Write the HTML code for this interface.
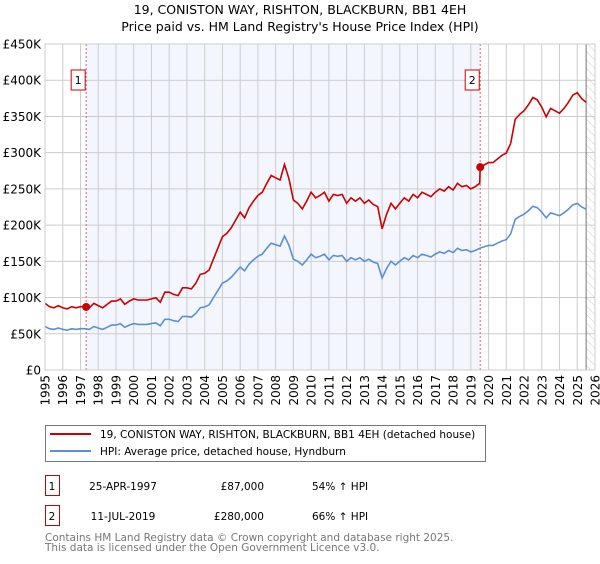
<!DOCTYPE html>
<html><head><meta charset="utf-8"><style>
body{margin:0;background:#fff;font-family:"DejaVu Sans","Liberation Sans",sans-serif;}
svg text{font-family:"DejaVu Sans","Liberation Sans",sans-serif;}
</style></head><body>
<svg id="c" width="600" height="560" xmlns="http://www.w3.org/2000/svg"></svg>
<script>
const hpiYears=[1995,1995.25,1995.5,1995.75,1996,1996.25,1996.5,1996.75,1997,1997.25,1997.5,1997.75,1998,1998.25,1998.5,1998.75,1999,1999.25,1999.5,1999.75,2000,2000.25,2000.5,2000.75,2001,2001.25,2001.5,2001.75,2002,2002.25,2002.5,2002.75,2003,2003.25,2003.5,2003.75,2004,2004.25,2004.5,2004.75,2005,2005.25,2005.5,2005.75,2006,2006.25,2006.5,2006.75,2007,2007.25,2007.5,2007.75,2008,2008.25,2008.5,2008.75,2009,2009.25,2009.5,2009.75,2010,2010.25,2010.5,2010.75,2011,2011.25,2011.5,2011.75,2012,2012.25,2012.5,2012.75,2013,2013.25,2013.5,2013.75,2014,2014.25,2014.5,2014.75,2015,2015.25,2015.5,2015.75,2016,2016.25,2016.5,2016.75,2017,2017.25,2017.5,2017.75,2018,2018.25,2018.5,2018.75,2019,2019.25,2019.5,2019.75,2020,2020.25,2020.5,2020.75,2021,2021.25,2021.5,2021.75,2022,2022.25,2022.5,2022.75,2023,2023.25,2023.5,2023.75,2024,2024.25,2024.5,2024.75,2025,2025.25,2025.5];
const hpiValues=[60,57,56,58,56,55,57,56,57,57,56,60,58,56,59,62,62,64,59,62,64,63,63,63,64,65,61,70,70,68,67,74,74,73,78,86,87,90,100,110,120,123,128,135,142,137,146,152,157,160,168,175,173,171,185,172,153,150,145,152,160,155,157,160,152,158,157,158,150,155,152,155,150,153,149,147,127,140,150,145,150,155,152,158,155,160,158,156,160,163,161,165,162,168,165,166,163,165,168,170,172,172,175,178,180,188,208,212,215,220,226,224,218,210,217,215,213,217,222,228,230,225,222];
const saleYears=[1997.32,2019.53];
const salePrices=[87000,280000];
const saleLabels=["1","2"];
const yTicks=[0,50,100,150,200,250,300,350,400,450];
const yTickLabels=["£0","£50K","£100K","£150K","£200K","£250K","£300K","£350K","£400K","£450K"];
const xTicks=[1995,1996,1997,1998,1999,2000,2001,2002,2003,2004,2005,2006,2007,2008,2009,2010,2011,2012,2013,2014,2015,2016,2017,2018,2019,2020,2021,2022,2023,2024,2025,2026];

const NS="http://www.w3.org/2000/svg";
const svg=document.getElementById('c');
const L=45,R=595,T=44,B=370;
const X=y=>L+(y-1995)*(R-L)/31;
const Y=v=>B-v*(B-T)/450;
function el(tag,attrs,parent){const e=document.createElementNS(NS,tag);for(const k in attrs)e.setAttribute(k,attrs[k]);(parent||svg).appendChild(e);return e;}
function hpiAt(y){for(let i=1;i<hpiYears.length;i++){if(hpiYears[i]>=y){const t=(y-hpiYears[i-1])/(hpiYears[i]-hpiYears[i-1]);return hpiValues[i-1]+t*(hpiValues[i]-hpiValues[i-1]);}}return hpiValues[hpiValues.length-1];}

let t=el('text',{x:300,y:14,'text-anchor':'middle','font-size':12.5,fill:'#000'});t.textContent="19, CONISTON WAY, RISHTON, BLACKBURN, BB1 4EH";

t=el('text',{x:300,y:31,'text-anchor':'middle','font-size':12.5,fill:'#000'});t.textContent="Price paid vs. HM Land Registry's House Price Index (HPI)";


let r=el('rect',{x:X(saleYears[0]),y:T,width:X(saleYears[1])-X(saleYears[0]),height:B-T,fill:'#eef3fc',opacity:0.7});

const defs=el('defs',{});
const pat=el('pattern',{id:'h',width:6,height:6,patternUnits:'userSpaceOnUse',patternTransform:'rotate(-45)'},defs);
el('line',{x1:0,y1:0,x2:0,y2:6,stroke:'#ccc','stroke-width':1},pat);
r=el('rect',{x:X(2025.5),y:T,width:R-X(2025.5),height:B-T,fill:'url(#h)'});


xTicks.forEach(y=>{const g=el('line',{x1:X(y),x2:X(y),y1:T,y2:B,stroke:'#ccc','stroke-width':1});

const tx=el('text',{x:0,y:0,'text-anchor':'end','font-size':12,fill:'#000',transform:'translate('+(X(y)+4.5)+','+(B+5)+') rotate(-90)'});tx.textContent=y;
});
yTicks.forEach((v,i)=>{const g=el('line',{x1:L,x2:R,y1:Y(v),y2:Y(v),stroke:'#ccc','stroke-width':1});

const tx=el('text',{x:L-4,y:Y(v)+4.5,'text-anchor':'end','font-size':12,fill:'#000'});tx.textContent=yTickLabels[i];
});
let ln=el('line',{x1:X(2025.5),x2:X(2025.5),y1:T,y2:B,stroke:'#777','stroke-width':1});


saleYears.forEach((sy,i)=>{const d=el('line',{x1:X(sy),x2:X(sy),y1:T,y2:B,stroke:'#e06060','stroke-width':1,'stroke-dasharray':'2,2'});

const bx=el('rect',{x:X(sy)-15,y:70,width:14,height:20,fill:'#fff',stroke:'#c00','stroke-width':1});

const bt=el('text',{x:X(sy)-8,y:84,'text-anchor':'middle','font-size':11,fill:'#000'});bt.textContent=saleLabels[i];
});

let p=hpiYears.map((y,i)=>(i?'L':'M')+X(y).toFixed(1)+','+Y(hpiValues[i]).toFixed(1)).join('');
let hp=el('path',{d:p,fill:'none',stroke:'#5b8fd4','stroke-width':1.6});

const f0=salePrices[0]/1000/hpiAt(saleYears[0]), f1=salePrices[1]/1000/hpiAt(saleYears[1]);
let pts=[];
hpiYears.forEach((y,i)=>{if(y<saleYears[1])pts.push([y,hpiValues[i]*f0]);});
pts.push([saleYears[1],salePrices[1]/1000]);
hpiYears.forEach((y,i)=>{if(y>saleYears[1])pts.push([y,hpiValues[i]*f1]);});
p=pts.map((q,i)=>(i?'L':'M')+X(q[0]).toFixed(1)+','+Y(q[1]).toFixed(1)).join('');
let pp=el('path',{d:p,fill:'none',stroke:'#cc0000','stroke-width':1.6});

saleYears.forEach((sy,i)=>{const c=el('circle',{cx:X(sy),cy:Y(salePrices[i]/1000),r:4,fill:'#cc0000'});
});

let fr=el('rect',{x:L,y:T,width:R-L,height:B-T,fill:'none',stroke:'#ccc','stroke-width':1});


let lg=el('rect',{x:45.5,y:425.5,width:440,height:36,fill:'#fff',stroke:'#777','stroke-width':1});

let ll=el('line',{x1:50,x2:91,y1:434,y2:434,stroke:'#cc0000','stroke-width':2});

let lt=el('text',{x:100,y:438,'font-size':10.5,fill:'#000'});lt.textContent="19, CONISTON WAY, RISHTON, BLACKBURN, BB1 4EH (detached house)";

ll=el('line',{x1:50,x2:91,y1:451,y2:451,stroke:'#5b8fd4','stroke-width':2});

lt=el('text',{x:100,y:455,'font-size':10.5,fill:'#000'});lt.textContent="HPI: Average price, detached house, Hyndburn";


const rows=[["1","25-APR-1997","£87,000","54% ↑ HPI"],["2","11-JUL-2019","£280,000","66% ↑ HPI"]];
rows.forEach((rw,i)=>{const yy=475+i*30;
const b=el('rect',{x:45.5,y:yy+0.5,width:14,height:20,fill:'#fff',stroke:'#c00','stroke-width':1});

const tx=[[52,'middle',rw[0]],[123,'middle',rw[1]],[264,'end',rw[2]],[312,'start',rw[3]]];
tx.forEach((q,j)=>{const e=el('text',{x:q[0],y:yy+15,'text-anchor':q[1],'font-size':10.5,fill:'#000'});e.textContent=q[2];
});});
let ft=el('text',{x:45,y:541,'font-size':10.5,fill:'#777'});ft.textContent="Contains HM Land Registry data © Crown copyright and database right 2025.";

ft=el('text',{x:45,y:551,'font-size':10.5,fill:'#777'});ft.textContent="This data is licensed under the Open Government Licence v3.0.";

</script>
</body></html>
